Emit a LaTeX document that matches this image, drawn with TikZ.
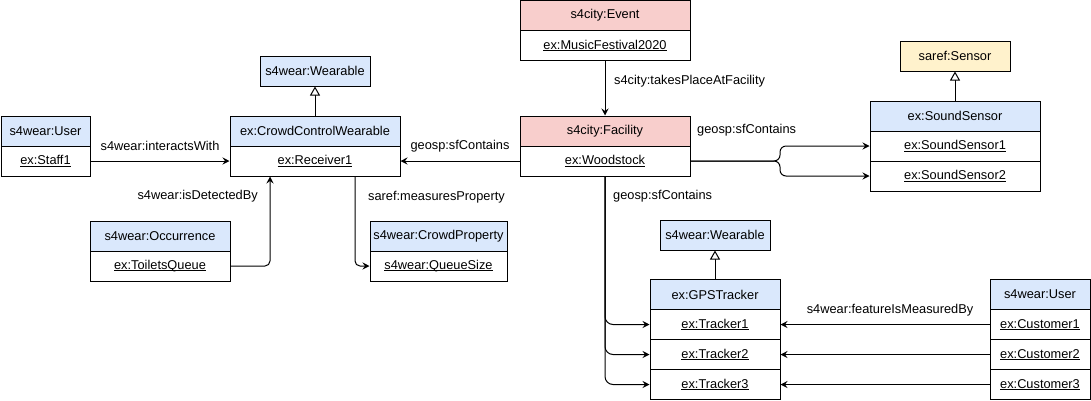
\documentclass[tikz,border=0pt]{standalone}
\usepackage{fontspec}
\setmainfont{Liberation Sans}
\usetikzlibrary{arrows.meta}
\definecolor{hblue}{HTML}{DAE8FC}
\definecolor{hpink}{HTML}{F8CECC}
\definecolor{hyel}{HTML}{FFF2CC}
\newcommand\myul[1]{\begingroup\setbox0\hbox{#1}\rlap{\rule[-1.8pt]{\wd0}{0.9pt}}\box0\endgroup}
\tikzset{
  cell/.style={draw=black, line width=1pt, minimum height=30pt, inner sep=0pt,
    font=\fontsize{12.8}{15}\selectfont, text=black},
  hdrb/.style={cell, fill=hblue},
  hdrp/.style={cell, fill=hpink},
  hdry/.style={cell, fill=hyel},
  inst/.style={cell, fill=white},
  lbl/.style={font=\fontsize{12.8}{15}\selectfont, inner sep=0pt, text=black},
  conn/.style={draw=black, line width=1pt, -{Stealth[length=7pt,width=7pt,inset=2.5pt]}},
  isa/.style={draw=black, line width=1pt, -{Triangle[open,length=9pt,width=10pt,fill=white]}},
}
\begin{document}
\begin{tikzpicture}[x=1pt,y=-1pt]
\useasboundingbox (0,0) rectangle (1091,400);

% left user
\node[hdrb, minimum width=89pt] (u1h) at (45.5,131) {s4wear:User};
\node[inst, minimum width=89pt] (u1r) at (45.5,161) {\myul{ex:Staff1}};

% wearable 1 and crowd control wearable
\node[hdrb, minimum width=110pt] (wr1) at (315,71) {s4wear:Wearable};
\node[hdrb, minimum width=170pt] (ccwh) at (315,131) {ex:CrowdControlWearable};
\node[inst, minimum width=170pt] (ccwr) at (315,161) {\myul{ex:Receiver1}};

% occurrence
\node[hdrb, minimum width=140pt] (occh) at (160,236) {s4wear:Occurrence};
\node[inst, minimum width=140pt] (toir) at (160,266) {\myul{ex:ToiletsQueue}};

% crowd property
\node[hdrb, minimum width=137pt] (cph) at (438.5,236) {s4wear:CrowdProperty};
\node[inst, minimum width=137pt] (cpr) at (438.5,266) {\myul{s4wear:QueueSize}};

% event and facility
\node[hdrp, minimum width=170pt] (evh) at (605,15.5) {s4city:Event};
\node[inst, minimum width=170pt] (evr) at (605,45.5) {\myul{ex:MusicFestival2020}};
\node[hdrp, minimum width=170pt] (fach) at (605,131) {s4city:Facility};
\node[inst, minimum width=170pt] (facr) at (605,161) {\myul{ex:Woodstock}};

% sensor
\node[hdry, minimum width=110pt] (sens) at (955,56) {saref:Sensor};
\node[hdrb, minimum width=170pt] (ssh) at (955,116) {ex:SoundSensor};
\node[inst, minimum width=170pt] (ss1) at (955,146) {\myul{ex:SoundSensor1}};
\node[inst, minimum width=170pt] (ss2) at (955,176) {\myul{ex:SoundSensor2}};

% wearable 2 and GPS tracker
\node[hdrb, minimum width=110pt] (wr2) at (715,235) {s4wear:Wearable};
\node[hdrb, minimum width=130pt] (gpsh) at (715,294.5) {ex:GPSTracker};
\node[inst, minimum width=130pt] (t1) at (715,324.5) {\myul{ex:Tracker1}};
\node[inst, minimum width=130pt] (t2) at (715,354.5) {\myul{ex:Tracker2}};
\node[inst, minimum width=130pt] (t3) at (715,384.5) {\myul{ex:Tracker3}};

% right users
\node[hdrb, minimum width=100pt] (u2h) at (1040,294.5) {s4wear:User};
\node[inst, minimum width=100pt] (c1) at (1040,324.5) {\myul{ex:Customer1}};
\node[inst, minimum width=100pt] (c2) at (1040,354.5) {\myul{ex:Customer2}};
\node[inst, minimum width=100pt] (c3) at (1040,384.5) {\myul{ex:Customer3}};

% inheritance
\draw[isa] (ccwh.north) -- (wr1.south);
\draw[isa] (ssh.north) -- (sens.south);
\draw[isa] (gpsh.north) -- (wr2.south);

% connectors
\draw[conn] (u1r.east) -- node[lbl, midway, yshift=15pt] {s4wear:interactsWith} (ccwr.west);
\draw[conn] (facr.west) -- node[lbl, midway, yshift=15pt] {geosp:sfContains} (ccwr.east);
\draw[conn] (evr.south) -- (fach.north);
\node[lbl, anchor=west] (ltp) at (614,81) {s4city:takesPlaceAtFacility};

\draw[conn, rounded corners=5pt] (toir.east) -| ([xshift=-45pt]ccwr.south);
\node[lbl, anchor=east] (ldet) at (258,196) {s4wear:isDetectedBy};

\draw[conn, rounded corners=5pt] ([xshift=40pt]ccwr.south) |- (cpr.west);
\node[lbl, anchor=west] (lmp) at (368,197) {saref:measuresProperty};

\coordinate (brc) at (780,161);
\draw[conn, rounded corners=6pt] (facr.east) -- (brc) |- (ss1.west);
\draw[conn, rounded corners=6pt] (facr.east) -- (brc) |- (ss2.west);
\node[lbl, anchor=west] (lsc1) at (697,130) {geosp:sfContains};

\draw[conn, rounded corners=8pt] (facr.south) |- (t1.west);
\draw[conn, rounded corners=8pt] (facr.south) |- (t2.west);
\draw[conn, rounded corners=8pt] (facr.south) |- (t3.west);
\node[lbl, anchor=west] (lsc2) at (613,196) {geosp:sfContains};

\draw[conn] (c1.west) -- node[lbl, midway, xshift=5pt, yshift=14pt] {s4wear:featureIsMeasuredBy} (t1.east);
\draw[conn] (c2.west) -- (t2.east);
\draw[conn] (c3.west) -- (t3.east);
\end{tikzpicture}
\end{document}
